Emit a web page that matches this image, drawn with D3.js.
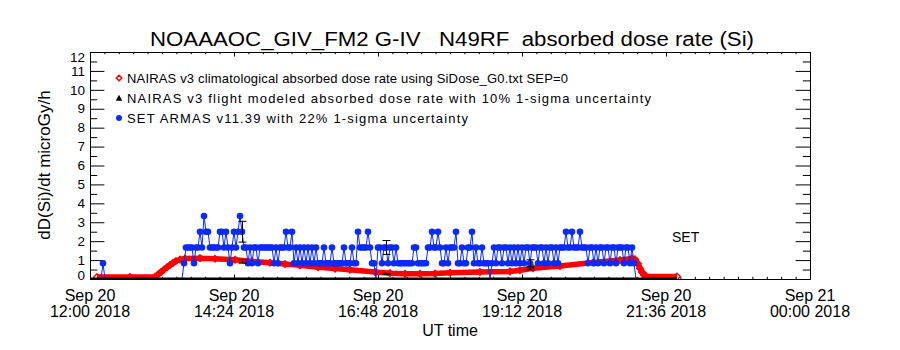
<!DOCTYPE html>
<html>
<head>
<meta charset="utf-8">
<script src="https://cdn.jsdelivr.net/npm/d3@7"></script>
<style>
  body { margin: 0; background: #fff; }
  svg { font-family: "Liberation Sans", Arial, sans-serif; }
  text { white-space: pre; }
</style>
</head>
<body>
<div id="chart"></div>
<script>
// ---- text ----
const titleText = "NOAAAOC_GIV_FM2 G-IV   N49RF  absorbed dose rate (Si)";
const yLabel = "dD(Si)/dt microGy/h";
const xLabel = "UT time";
const legendLabels = [
  "NAIRAS v3 climatological absorbed dose rate using SiDose_G0.txt SEP=0",
  "NAIRAS v3 flight modeled absorbed dose rate with 10% 1-sigma uncertainty",
  "SET ARMAS v11.39 with 22% 1-sigma uncertainty"
];
const sideNote = "SET";

// ---- ticks ----
const yTicks = [0, 1, 2, 3, 4, 5, 6, 7, 8, 9, 10, 11, 12];
const xTicks = ["2018-09-20T12:00", "2018-09-20T14:24", "2018-09-20T16:48",
                "2018-09-20T19:12", "2018-09-20T21:36", "2018-09-21T00:00"];

// ---- NAIRAS climatological (red), [UT time, microGy/h] ----
const nairasClim = [
  ["12:07", 0.10], ["12:40", 0.10], ["13:05", 0.11], ["13:08", 0.24], ["13:11", 0.37],
  ["13:14", 0.50], ["13:17", 0.62], ["13:20", 0.74], ["13:23", 0.85], ["13:26", 0.95],
  ["13:30", 1.03], ["13:35", 1.08], ["13:50", 1.10], ["14:05", 1.07], ["14:25", 1.02],
  ["14:42", 0.93], ["15:00", 0.86], ["15:15", 0.79], ["15:30", 0.72], ["15:48", 0.62],
  ["16:05", 0.55], ["16:20", 0.49], ["16:45", 0.37], ["17:00", 0.31], ["17:15", 0.28],
  ["17:30", 0.28], ["17:45", 0.29], ["18:00", 0.33], ["18:30", 0.37], ["19:00", 0.40],
  ["19:10", 0.46], ["19:23", 0.57], ["19:50", 0.69], ["20:23", 0.87], ["20:50", 1.00],
  ["21:02", 1.08], ["21:05", 1.04], ["21:08", 0.80], ["21:10", 0.56], ["21:12", 0.36],
  ["21:14", 0.21], ["21:16", 0.15], ["21:47", 0.13]
];

// ---- NAIRAS flight modeled (black) ----
const nairasFlight = [["12:00", 0], ["21:47", 0]];
const nairasFlightErr = [["14:32", 0.93], ["16:56", 0.27], ["19:20", 0.53]];
const flightSigma = 0.10;

// ---- SET ARMAS (blue) ----
const setSteps = [0, 0.833, 1.667, 2.5, 3.333];    // dose-rate quantisation levels
const setEarly = [["12:11", 0], ["12:13", 0.833], ["12:15", 0]];
const setStart = "13:32";
const setStepMin = 2;
// one digit per 2-minute sample, index into setSteps
const setLevels =
  "0122221223" + "2433222223" + "3232123234" + "3221212212" + "2222221212" +
  "2232231212" + "1212121211" + "1211121111" + "1211121132" + "2223211022" +
  "1221221211" + "1111112211" + "1112232232" + "1121222311" + "2112231211" +
  "2111012122" + "1221212121" + "2122122212" + "2121221212" + "2232232223" +
  "2221221212" + "2122122122" + "21221210";
const setErr = [["14:32", 2.5], ["16:56", 1.667], ["19:20", 0.833]];
const setSigma = 0.22;

// ---- helpers ----
const day0 = Date.UTC(2018, 8, 20);
const parseT = s => new Date(day0 + (+s.slice(0, 2)) * 3600e3 + (+s.slice(3, 5)) * 60e3);
const parseFull = d3.utcParse("%Y-%m-%dT%H:%M");

const W = 900, H = 350;
const svg = d3.select("#chart").append("svg").attr("width", W).attr("height", H);

const x = d3.scaleUtc()
  .domain([parseFull(xTicks[0]), parseFull(xTicks[xTicks.length - 1])])
  .range([90, 810]);
const y = d3.scaleLinear().domain([0, 12]).range([279, 52]);

const [x0, x1] = x.range();
const [yb, yt] = y.range();

svg.append("defs").append("clipPath").attr("id", "plotclip")
  .append("rect").attr("x", x0).attr("y", yt).attr("width", x1 - x0).attr("height", yb - yt);

// ---- axes ----
const majorX = xTicks.map(parseFull);
const minorX = [];
for (let i = 0; i < majorX.length - 1; i++) {
  const a = +majorX[i], b = +majorX[i + 1];
  for (let k = 1; k < 10; k++) minorX.push(new Date(a + (b - a) * k / 10));
}
const minorY = yTicks.slice(0, -1).map(v => v + 0.5);
const xTickLen = 4.5, yTickLen = 14.4;

function styleAxis(g) {
  g.selectAll("path, line").attr("stroke", "#000").attr("stroke-width", 1);
  g.selectAll("text").remove();
}
svg.append("g").attr("transform", `translate(0,${yb})`)
  .call(d3.axisBottom(x).tickValues(majorX).tickSizeInner(-xTickLen).tickSizeOuter(0)).call(styleAxis);
svg.append("g").attr("transform", `translate(0,${yb})`)
  .call(d3.axisBottom(x).tickValues(minorX).tickSizeInner(-xTickLen / 2).tickSizeOuter(0)).call(styleAxis);
svg.append("g").attr("transform", `translate(0,${yt})`)
  .call(d3.axisTop(x).tickValues(majorX).tickSizeInner(-xTickLen).tickSizeOuter(0)).call(styleAxis);
svg.append("g").attr("transform", `translate(0,${yt})`)
  .call(d3.axisTop(x).tickValues(minorX).tickSizeInner(-xTickLen / 2).tickSizeOuter(0)).call(styleAxis);
svg.append("g").attr("transform", `translate(${x0},0)`)
  .call(d3.axisLeft(y).tickValues(yTicks).tickSizeInner(-yTickLen).tickSizeOuter(0)).call(styleAxis);
svg.append("g").attr("transform", `translate(${x0},0)`)
  .call(d3.axisLeft(y).tickValues(minorY).tickSizeInner(-yTickLen / 2).tickSizeOuter(0)).call(styleAxis);
svg.append("g").attr("transform", `translate(${x1},0)`)
  .call(d3.axisRight(y).tickValues(yTicks).tickSizeInner(-yTickLen).tickSizeOuter(0)).call(styleAxis);
svg.append("g").attr("transform", `translate(${x1},0)`)
  .call(d3.axisRight(y).tickValues(minorY).tickSizeInner(-yTickLen / 2).tickSizeOuter(0)).call(styleAxis);

// y tick labels
svg.append("g").selectAll("text").data(yTicks).join("text")
  .attr("x", x0 - 5)
  .attr("y", d => Math.min(Math.max(y(d), yt + 5), yb - 4))
  .attr("dy", "0.35em")
  .attr("text-anchor", "end").attr("font-size", 13.5)
  .text(d => d);

// x tick labels (two lines)
const fmtDay = d3.utcFormat("%b %d"), fmtTime = d3.utcFormat("%H:%M %Y");
const xl = svg.append("g").selectAll("text").data(majorX).join("text")
  .attr("text-anchor", "middle").attr("font-size", 16);
xl.append("tspan").attr("x", d => x(d)).attr("y", 301).text(fmtDay);
xl.append("tspan").attr("x", d => x(d)).attr("y", 317).text(fmtTime);

svg.append("text").attr("x", 450).attr("y", 336).attr("text-anchor", "middle")
  .attr("font-size", 16).text(xLabel);
svg.append("text").attr("transform", "translate(50,165) rotate(-90)")
  .attr("text-anchor", "middle").attr("font-size", 17).text(yLabel);
svg.append("text").attr("x", 452).attr("y", 46).attr("text-anchor", "middle")
  .attr("font-size", 20).attr("textLength", 604).attr("lengthAdjust", "spacingAndGlyphs")
  .text(titleText);

// ---- data ----
const plot = svg.append("g").attr("clip-path", "url(#plotclip)");

const clim = nairasClim.map(d => ({ t: parseT(d[0]), v: d[1] }));
const flight = nairasFlight.map(d => ({ t: parseT(d[0]), v: d[1] }));
const setData = setEarly.map(d => ({ t: parseT(d[0]), v: d[1] })).concat(
  setLevels.split("").map((c, i) => ({
    t: new Date(+parseT(setStart) + i * setStepMin * 60e3),
    v: setSteps[+c]
  })));

const line = d3.line().x(d => x(d.t)).y(d => y(d.v));
const RED = "#ff0000", BLUE = "#0a2aff";

// climatological: thick red band with open diamonds
plot.append("path").datum(clim).attr("d", line)
  .attr("fill", "none").attr("stroke", RED).attr("stroke-width", 5.5).attr("stroke-linejoin", "round");
const diamond = s => `M0,${-s}L${s},0L0,${s}L${-s},0Z`;
plot.append("g").selectAll("path").data(clim).join("path")
  .attr("transform", d => `translate(${x(d.t)},${y(d.v)})`)
  .attr("d", diamond(3.4)).attr("fill", "none").attr("stroke", RED).attr("stroke-width", 1.3);

// SET ARMAS: blue line with filled circles
plot.append("path").datum(setData).attr("d", line)
  .attr("fill", "none").attr("stroke", BLUE).attr("stroke-width", 1);
plot.append("g").selectAll("circle").data(setData.filter(d => d.v > 0)).join("circle")
  .attr("cx", d => x(d.t)).attr("cy", d => y(d.v)).attr("r", 3.3).attr("fill", BLUE);

// flight modeled baseline
plot.append("path").datum(flight).attr("d", line)
  .attr("fill", "none").attr("stroke", "#000").attr("stroke-width", 3);

// error bars
function errBars(rows, sigma) {
  const g = plot.append("g").attr("stroke", "#000").attr("stroke-width", 1);
  rows.forEach(r => {
    const cx = Math.round(x(parseT(r[0]))) + 0.5;
    const lo = y(r[1] * (1 - sigma)), hi = y(r[1] * (1 + sigma));
    g.append("line").attr("x1", cx).attr("x2", cx).attr("y1", lo).attr("y2", hi);
    g.append("line").attr("x1", cx - 4).attr("x2", cx + 4).attr("y1", lo).attr("y2", lo);
    g.append("line").attr("x1", cx - 4).attr("x2", cx + 4).attr("y1", hi).attr("y2", hi);
  });
}
errBars(setErr, setSigma);
errBars(nairasFlightErr, flightSigma);

// ---- legend ----
const legendW = [441, 524, 341];
const lg = svg.append("g").attr("transform", "translate(119,78)");
legendLabels.forEach((label, i) => {
  const row = lg.append("g").attr("transform", `translate(0,${i * 20})`);
  if (i === 0) row.append("path").attr("d", diamond(2.8)).attr("fill", "none").attr("stroke", RED).attr("stroke-width", 1.5);
  if (i === 1) row.append("path").attr("d", "M0,-3.2L3.2,2.8L-3.2,2.8Z").attr("fill", "#000");
  if (i === 2) row.append("circle").attr("r", 3).attr("fill", BLUE);
  row.append("text").attr("x", 8).attr("dy", "0.36em").attr("font-size", 13)
    .attr("textLength", legendW[i]).attr("lengthAdjust", "spacing").text(label);
});

svg.append("text").attr("x", 672).attr("y", 242).attr("font-size", 14).text(sideNote);
</script>
</body>
</html>
